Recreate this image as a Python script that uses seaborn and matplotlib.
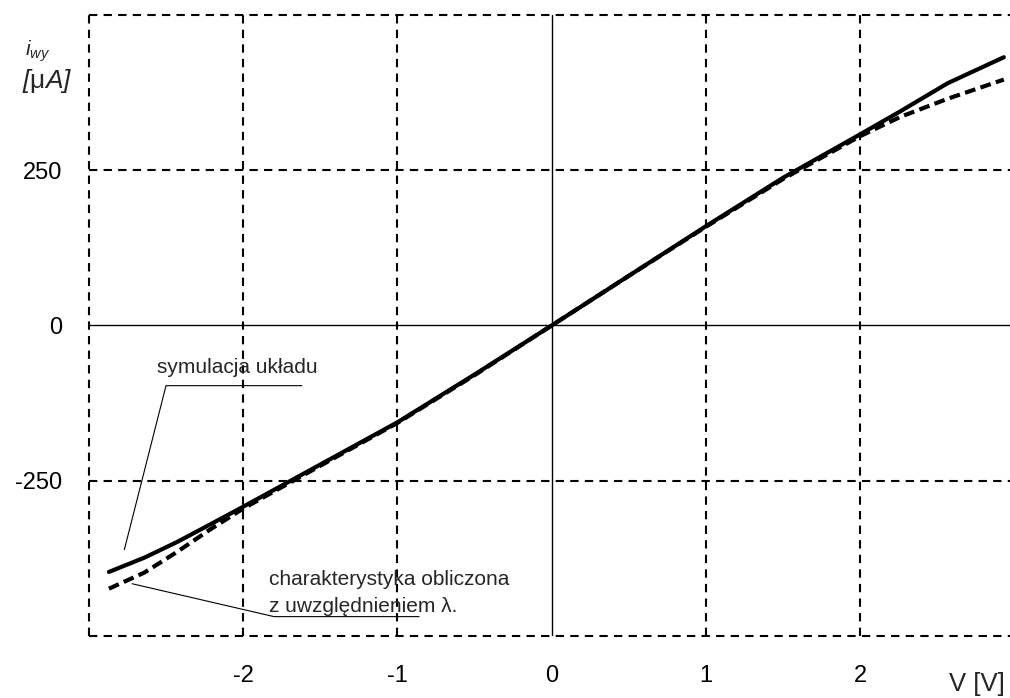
import numpy as np
import pandas as pd
import matplotlib
matplotlib.use("Agg")
import matplotlib.pyplot as plt
import seaborn as sns

# ---- data ----
voltage = [-2.87, -2.64, -2.43, -2.21, -2.0, -1.5, -1.0, -0.5, 0.0, 0.5, 1.0, 1.5, 2.0, 2.26, 2.565, 2.93]
i_sim = [-397, -374, -349, -320, -292, -224, -156, -79, 0, 80, 160, 238, 308, 345, 390, 432]
i_calc = [-424, -398, -365, -328, -295, -226, -157, -80, 0, 80, 159, 236, 305, 336, 365, 396]
series_names = ["symulacja układu", "charakterystyka obliczona z uwzględnieniem λ"]
x_ticks = [-2, -1, 0, 1, 2]
y_ticks = [-250, 0, 250]
x_grid = [-3, -2, -1, 1, 2]
y_grid = [-500, -250, 250, 500]

df = pd.DataFrame({
    "V": voltage * 2,
    "i": i_sim + i_calc,
    "series": [series_names[0]] * len(voltage) + [series_names[1]] * len(voltage),
})

sns.set_style("white")
plt.rcParams["font.family"] = ["Liberation Sans", "DejaVu Sans"]
plt.rcParams["mathtext.fontset"] = "custom"
plt.rcParams["mathtext.it"] = "Liberation Sans:italic"
plt.rcParams["mathtext.rm"] = "Liberation Sans"

fig = plt.figure(figsize=(10.10, 6.98), dpi=100)
ax = fig.add_axes([0.088, 0.089, 0.912, 0.8895])

ax.set_xlim(-3.0, 2.97)
ax.set_ylim(-500, 500)

# grid (dashed) and zero axes (solid)
for gx in x_grid:
    ax.axvline(gx, color="black", lw=1.5, ls=(0, (4, 3)), zorder=1, clip_on=False)
for gy in y_grid:
    ax.axhline(gy, color="black", lw=1.5, ls=(0, (4, 3)), zorder=1, clip_on=False)
ax.axhline(0, color="black", lw=1.0, zorder=1)
ax.axvline(0, color="black", lw=1.0, zorder=1)

sns.lineplot(data=df, x="V", y="i", hue="series", style="series",
             palette=["black", "black"],
             dashes={series_names[0]: "", series_names[1]: (2.6, 1.3)},
             linewidth=3.0, legend=False, ax=ax, zorder=3, sort=False)

for s in ax.spines.values():
    s.set_visible(False)

ax.set_xticks(x_ticks)
ax.set_xticklabels([f"{t}" for t in x_ticks])
ax.set_yticks(y_ticks)
ax.set_yticklabels([f"{t}" for t in y_ticks])
ax.tick_params(axis="both", length=0, labelsize=17, colors="black")
ax.tick_params(axis="y", pad=19.5)
ax.tick_params(axis="x", pad=21)
ax.set_xlabel("")
ax.set_ylabel("")

# axis titles
fig.text(0.025, 0.908, r"$\mathit{i}_{\mathit{wy}}$", fontsize=15, ha="left", va="bottom")
fig.text(0.022, 0.864, r"[$\mathrm{\mu}$$\mathit{A}$]", fontsize=19, ha="left", va="bottom",
         style="italic")
fig.text(0.940, 0.003, "V [V]", fontsize=18.5, ha="left", va="bottom")

# annotations
ax.text(-2.56, -76, "symulacja układu", fontsize=15, ha="left", va="baseline")
ax.plot([-1.62, -2.50, -2.77], [-97, -97, -361], color="black", lw=0.8, zorder=2)

ax.text(-1.83, -418, "charakterystyka obliczona", fontsize=15, ha="left", va="baseline")
ax.text(-1.83, -461, "z uwzględnieniem λ.", fontsize=15, ha="left", va="baseline")
ax.plot([-0.86, -1.80, -2.72], [-469, -469, -416], color="black", lw=0.8, zorder=2)

fig.savefig("out.png", dpi=100, facecolor="white")
